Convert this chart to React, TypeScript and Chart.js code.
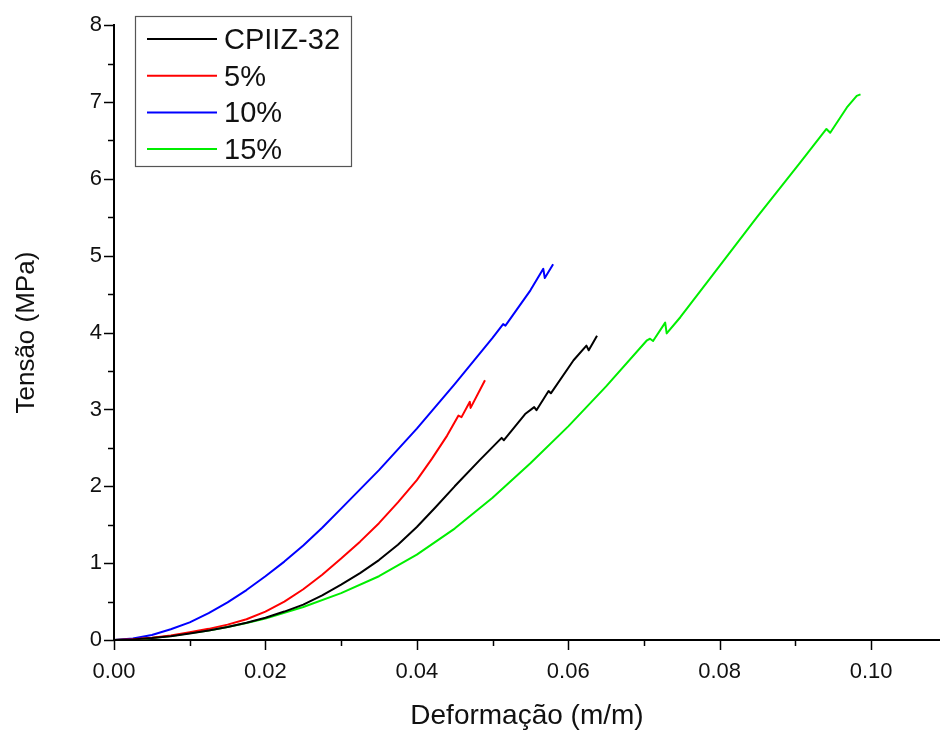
import React, { useEffect, useRef } from "react";
import { Chart, registerables } from "chart.js";

Chart.register(...registerables);

// ---- data ----
const seriesNames = ["CPIIZ-32", "5%", "10%", "15%"];
const seriesColors = ["#000000", "#ff0000", "#0000ff", "#00ee00"];

const cpiizX = [0, 0.0025, 0.005, 0.0075, 0.01, 0.0125, 0.015, 0.0175, 0.02, 0.0225, 0.025, 0.0275, 0.03, 0.0325, 0.035, 0.0375, 0.04, 0.0425, 0.045, 0.0483, 0.0512, 0.0515, 0.0543, 0.0555, 0.0558, 0.0574, 0.0577, 0.0607, 0.0624, 0.0627, 0.0638];
const cpiizY = [0, 0.008, 0.025, 0.05, 0.085, 0.125, 0.17, 0.225, 0.29, 0.37, 0.46, 0.58, 0.72, 0.87, 1.04, 1.24, 1.47, 1.73, 2.0, 2.34, 2.63, 2.6, 2.94, 3.03, 2.99, 3.24, 3.21, 3.64, 3.83, 3.77, 3.96];

const p5X = [0, 0.0025, 0.005, 0.0075, 0.01, 0.0125, 0.015, 0.0175, 0.02, 0.0225, 0.025, 0.0275, 0.03, 0.0325, 0.035, 0.0375, 0.04, 0.042, 0.044, 0.0455, 0.0459, 0.047, 0.0471, 0.049];
const p5Y = [0, 0.01, 0.03, 0.06, 0.1, 0.145, 0.2, 0.27, 0.37, 0.5, 0.66, 0.85, 1.06, 1.28, 1.52, 1.79, 2.08, 2.36, 2.66, 2.92, 2.9, 3.1, 3.02, 3.38];

const p10X = [0, 0.0025, 0.005, 0.0075, 0.01, 0.0125, 0.015, 0.0175, 0.02, 0.0225, 0.025, 0.0275, 0.03, 0.0325, 0.035, 0.0375, 0.04, 0.045, 0.05, 0.0514, 0.0517, 0.055, 0.0567, 0.0569, 0.058];
const p10Y = [0, 0.02, 0.065, 0.14, 0.23, 0.35, 0.49, 0.65, 0.83, 1.02, 1.23, 1.46, 1.71, 1.96, 2.21, 2.48, 2.75, 3.33, 3.93, 4.11, 4.09, 4.55, 4.83, 4.71, 4.89];

const p15X = [0, 0.0025, 0.005, 0.0075, 0.0099, 0.0125, 0.015, 0.0175, 0.02, 0.025, 0.03, 0.035, 0.04, 0.045, 0.05, 0.055, 0.06, 0.065, 0.0704, 0.0708, 0.0712, 0.0728, 0.073, 0.0748, 0.0783, 0.0849, 0.0906, 0.0941, 0.0946, 0.0968, 0.0981, 0.0986];
const p15Y = [0, 0.008, 0.025, 0.052, 0.087, 0.125, 0.17, 0.22, 0.28, 0.43, 0.61, 0.83, 1.11, 1.45, 1.85, 2.3, 2.78, 3.3, 3.9, 3.92, 3.89, 4.13, 3.99, 4.2, 4.65, 5.5, 6.21, 6.65, 6.6, 6.93, 7.08, 7.1];

const xTickValues = [0, 0.02, 0.04, 0.06, 0.08, 0.1];
const xTickLabels = ["0.00", "0.02", "0.04", "0.06", "0.08", "0.10"];
const yTickValues = [0, 1, 2, 3, 4, 5, 6, 7, 8];
const yTickLabels = ["0", "1", "2", "3", "4", "5", "6", "7", "8"];

const xTitle = "Deformação (m/m)";
const yTitle = "Tensão (MPa)";

const FONT = "Arial, 'Liberation Sans', sans-serif";
const TEXT = "#111111";

function pts(xs: number[], ys: number[]) {
  return xs.map((x, i) => ({ x, y: ys[i] }));
}

function labelFor(values: number[], labels: string[], v: number) {
  const i = values.findIndex((t) => Math.abs(t - v) < 1e-6);
  return i >= 0 ? labels[i] : "";
}

const axisTicksPlugin = {
  id: "axisTicks",
  afterDraw(chart: any) {
    const { ctx, chartArea, scales } = chart;
    ctx.save();
    ctx.strokeStyle = "#000";
    ctx.lineWidth = 1.5;
    const xs = scales.x;
    xs.ticks.forEach((t: any) => {
      const px = Math.round(xs.getPixelForValue(t.value)) + 0.5;
      const major = labelFor(xTickValues, xTickLabels, t.value) !== "";
      ctx.beginPath();
      ctx.moveTo(px, chartArea.bottom);
      ctx.lineTo(px, chartArea.bottom + (major ? 10 : 6));
      ctx.stroke();
    });
    const ys = scales.y;
    ys.ticks.forEach((t: any) => {
      const py = Math.round(ys.getPixelForValue(t.value)) + 0.5;
      const major = labelFor(yTickValues, yTickLabels, t.value) !== "";
      ctx.beginPath();
      ctx.moveTo(chartArea.left, py);
      ctx.lineTo(chartArea.left - (major ? 10 : 6), py);
      ctx.stroke();
    });
    ctx.restore();
  },
};

const boxLegendPlugin = {
  id: "boxLegend",
  afterDraw(chart: any) {
    const { ctx } = chart;
    const left = 135.5, top = 16.5, w = 216, h = 150;
    ctx.save();
    ctx.fillStyle = "#fff";
    ctx.fillRect(left, top, w, h);
    ctx.strokeStyle = "#555";
    ctx.lineWidth = 1.2;
    ctx.strokeRect(left, top, w, h);
    ctx.font = `29px ${FONT}`;
    ctx.textBaseline = "middle";
    ctx.textAlign = "left";
    chart.data.datasets.forEach((ds: any, i: number) => {
      const y = 39 + i * 36.7;
      ctx.strokeStyle = ds.borderColor;
      ctx.lineWidth = 2;
      ctx.beginPath();
      ctx.moveTo(147, y);
      ctx.lineTo(217, y);
      ctx.stroke();
      ctx.fillStyle = TEXT;
      ctx.fillText(ds.label, 224, y + 2);
    });
    ctx.restore();
  },
};

export default function App() {
  const ref = useRef<HTMLCanvasElement | null>(null);
  useEffect(() => {
    if (!ref.current) return;
    const allX = [cpiizX, p5X, p10X, p15X];
    const allY = [cpiizY, p5Y, p10Y, p15Y];
    const chart = new Chart(ref.current, {
      type: "line",
      data: {
        datasets: seriesNames.map((name, i) => ({
          label: name,
          data: pts(allX[i], allY[i]),
          borderColor: seriesColors[i],
          backgroundColor: seriesColors[i],
          borderWidth: 2,
          pointRadius: 0,
          tension: 0,
          borderJoinStyle: "round" as const,
          fill: false,
        })),
      },
      options: {
        animation: false,
        responsive: false,
        layout: { padding: { top: 23, left: 0, right: 0, bottom: 0 } },
        plugins: { legend: { display: false }, tooltip: { enabled: false } },
        scales: {
          x: {
            type: "linear",
            min: 0,
            max: 0.1091,
            afterFit: (s: any) => {
              s.height = 93;
            },
            grid: { display: false, drawTicks: false },
            border: { display: true, color: "#000", width: 2 },
            ticks: {
              stepSize: 0.01,
              autoSkip: false,
              includeBounds: false,
              maxRotation: 0,
              padding: 19,
              color: TEXT,
              font: { family: FONT, size: 22 },
              callback: (v: any) => labelFor(xTickValues, xTickLabels, Number(v)),
            },
            title: {
              display: true,
              text: xTitle,
              color: TEXT,
              font: { family: FONT, size: 28 },
              padding: { top: 0, bottom: 0 },
            },
          },
          y: {
            type: "linear",
            min: 0,
            max: 8,
            afterFit: (s: any) => {
              s.width = 114;
            },
            grid: { display: false, drawTicks: false },
            border: { display: true, color: "#000", width: 2 },
            ticks: {
              stepSize: 0.5,
              autoSkip: false,
              padding: 12,
              color: TEXT,
              font: { family: FONT, size: 22 },
              callback: (v: any) => labelFor(yTickValues, yTickLabels, Number(v)),
            },
            title: {
              display: true,
              text: yTitle,
              color: TEXT,
              font: { family: FONT, size: 26 },
              padding: { top: 11, bottom: 0 },
            },
          },
        },
      },
      plugins: [axisTicksPlugin, boxLegendPlugin],
    });
    return () => chart.destroy();
  }, []);
  return (
    <div style={{ position: "fixed", left: 0, top: 0, width: 940, height: 733, background: "#fff" }}>
      <canvas ref={ref} width={940} height={733} />
    </div>
  );
}
